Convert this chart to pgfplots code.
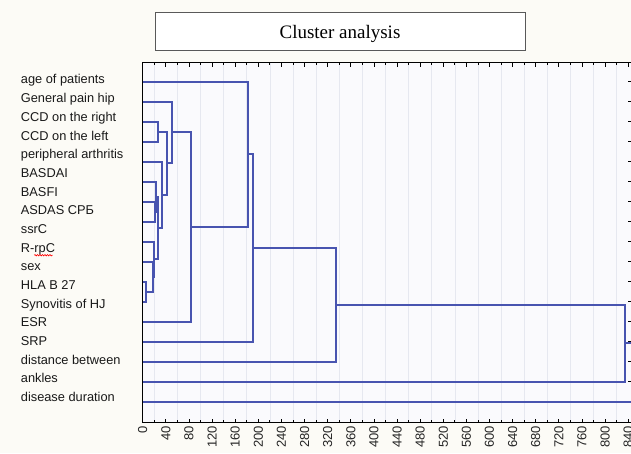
\documentclass[border=0pt]{standalone}
\usepackage{pgfplots}
\pgfplotsset{compat=1.18}
\usepackage{fontspec}
\setmainfont{Liberation Sans}
\newfontfamily\titlefont{Liberation Serif}
\usetikzlibrary{decorations.pathmorphing}
\definecolor{dend}{RGB}{72,84,176}
\definecolor{bg}{RGB}{252,251,246}
\definecolor{plotbg}{RGB}{250,250,253}
\definecolor{gridc}{RGB}{230,232,240}
\pgfplotsset{dendro/.style={dend, line width=2pt, no marks, solid, line join=miter}}
\begin{document}
\begin{tikzpicture}[x=1pt,y=1pt]
\clip (-142.7,-30.3) rectangle (488.3,422.7);
\fill[bg] (-142.7,-30.3) rectangle (488.3,422.7);
\begin{axis}[
  at={(0,0)}, anchor=south west,
  scale only axis, width=489pt, height=360pt,
  xmin=0, xmax=846, ymin=0.05, ymax=18.05, y dir=reverse,
  axis background/.style={fill=plotbg},
  xtick={0,40,...,840}, minor x tick num=1,
  xminorgrids, minor grid style={gridc, line width=0.6pt},
  ytick={1,...,17}, yticklabels={},
  tick align=inside, major tick length=4pt, minor tick length=2.5pt,
  xticklabel style={rotate=90, anchor=east, font=\fontsize{13}{13}\selectfont, text=black!85},
  /pgf/number format/assume math mode=true,
  axis line style={black, line width=1.2pt},
  every tick/.style={black, line width=0.8pt},
]
\addplot[dendro] coordinates {(0,11)(5.5,11)(5.5,12)(0,12)};
\addplot[dendro] coordinates {(0,10)(17,10)(17,11.5)(5.5,11.5)};
\addplot[dendro] coordinates {(0,9)(19.5,9)(19.5,10.75)(17,10.75)};
\addplot[dendro] coordinates {(0,7)(20.5,7)(20.5,8)(0,8)};
\addplot[dendro] coordinates {(0,6)(23,6)(23,7.5)(20.5,7.5)};
\addplot[dendro] coordinates {(23,6.75)(26,6.75)(26,9.875)(19.5,9.875)};
\addplot[dendro] coordinates {(0,5)(34,5)(34,8.3125)(26,8.3125)};
\addplot[dendro] coordinates {(0,3)(27,3)(27,4)(0,4)};
\addplot[dendro] coordinates {(27,3.5)(42,3.5)(42,6.656)(34,6.656)};
\addplot[dendro] coordinates {(0,2)(50.5,2)(50.5,5.078)(42,5.078)};
\addplot[dendro] coordinates {(50.5,3.539)(83.5,3.539)(83.5,13)(0,13)};
\addplot[dendro] coordinates {(0,1)(182,1)(182,8.27)(83.5,8.27)};
\addplot[dendro] coordinates {(182,4.635)(191,4.635)(191,14)(0,14)};
\addplot[dendro] coordinates {(191,9.317)(335,9.317)(335,15)(0,15)};
\addplot[dendro] coordinates {(335,12.159)(834,12.159)(834,16)(0,16)};
\addplot[dendro] coordinates {(834,14.079)(900,14.079)(900,17)(0,17)};
\end{axis}
\foreach \t [count=\k] in {age of patients, General pain hip, CCD on the right, CCD on the left, peripheral arthritis, BASDAI, BASFI, ASDAS СРБ, ssrC, R-rpC, sex, HLA B 27, Synovitis of HJ, ESR, SRP, distance between, ankles, disease duration}
  \node[anchor=base west, font=\fontsize{12.8}{12.8}\selectfont, text=black!90, inner sep=0pt] at (-122, {422.7-84-18.68*(\k-1)}) {\t};
\draw[red, line width=0.6pt, decorate, decoration={snake, amplitude=0.7pt, segment length=2.5pt}] (-108.5,167.5) -- (-90,167.5);
\draw[black!65, line width=0.9pt, fill=white] (12.3,372.7) rectangle (382.3,410.7);
\node[anchor=base, font=\titlefont\fontsize{19}{19}\selectfont, inner sep=0pt] at (197.3,384.4) {Cluster analysis};
\end{tikzpicture}
\end{document}
